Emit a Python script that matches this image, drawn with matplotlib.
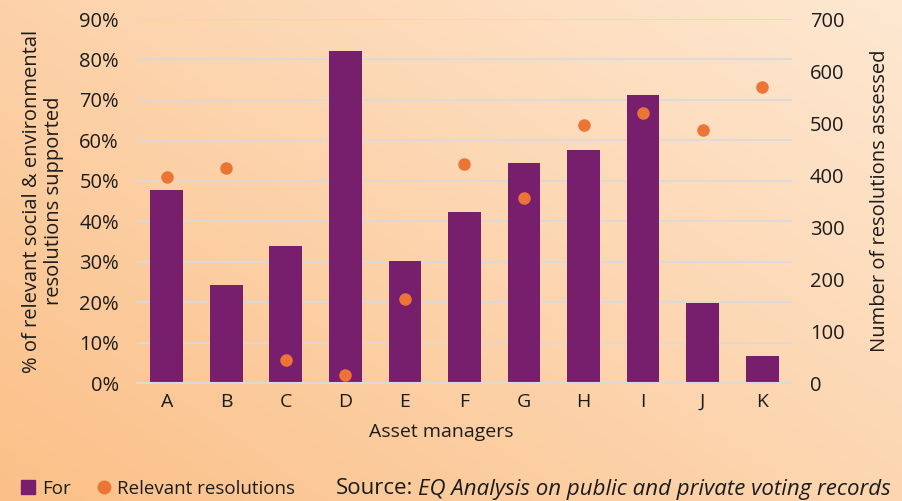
import numpy as np
import matplotlib
matplotlib.use("Agg")
import matplotlib.pyplot as plt
from matplotlib.lines import Line2D

plt.rcParams['font.family'] = ['Open Sans', 'DejaVu Sans']

managers = ["A", "B", "C", "D", "E", "F", "G", "H", "I", "J", "K"]
pct_for = [47.7, 24.2, 33.9, 82.1, 30.2, 42.3, 54.4, 57.6, 71.2, 19.8, 6.7]
relevant = [396, 413, 45, 16, 162, 421, 356, 496, 520, 487, 570]

purple = "#771f6d"
orange = "#ec7535"
txt = "#1c1c1c"
grid_c = "#d9d9de"

fig = plt.figure(figsize=(9.03, 5.01), dpi=100)

# gradient background (orange bottom-left -> pale top-right)
bg = fig.add_axes([0, 0, 1, 1], zorder=-10)
xx, yy = np.meshgrid(np.linspace(0, 1, 300), np.linspace(1, 0, 200))
t = np.clip(0.55 * xx + 0.45 * yy, 0, 1)[..., None]
c0 = np.array([251, 192, 136]) / 255
c1 = np.array([254, 232, 210]) / 255
bg.imshow(c0 + t * (c1 - c0), aspect='auto', extent=[0, 1, 0, 1])
bg.axis('off')

ax = fig.add_axes([0.1517, 0.2355, 0.7253, 0.7265])
ax.patch.set_alpha(0)
x = np.arange(len(managers))
ax.bar(x, pct_for, width=0.55, color=purple, zorder=2)
ax.set_xlim(-0.5, len(managers) - 0.5)
ax.set_ylim(0, 90)
ax.set_yticks(range(0, 91, 10))
ax.set_yticklabels([f"{v}%" for v in range(0, 91, 10)])
ax.set_xticks(x)
ax.set_xticklabels(managers)
ax.grid(axis='y', color=grid_c, linewidth=1.2)
ax.set_axisbelow(True)
for s in ['top', 'left', 'right']:
    ax.spines[s].set_visible(False)
ax.spines['bottom'].set_color(grid_c)
ax.spines['bottom'].set_linewidth(1.5)
ax.tick_params(axis='y', length=0, pad=13, labelsize=14.5, labelcolor=txt)
ax.tick_params(axis='x', length=0, pad=7, labelsize=14, labelcolor=txt)
ax.set_ylabel("% of relevant social & environmental\nresolutions supported",
              fontsize=14.5, color=txt, linespacing=1.1, labelpad=11)

ax2 = ax.twinx()
ax2.patch.set_alpha(0)
ax2.plot(x, relevant, 'o', color=orange, markersize=8, zorder=3)
ax2.set_ylim(0, 700)
ax2.set_yticks(range(0, 701, 100))
for s in ['top', 'left', 'right', 'bottom']:
    ax2.spines[s].set_visible(False)
ax2.tick_params(axis='y', length=0, pad=13, labelsize=14.5, labelcolor=txt)
ax2.set_ylabel("Number of resolutions assessed", fontsize=14.5, color=txt, labelpad=18)

fig.text(441 / 903, 1 - 432 / 501, "Asset managers", ha='center', va='center',
         fontsize=14, color=txt)

handles = [Line2D([], [], marker='s', linestyle='none', color=purple, markersize=10),
           Line2D([], [], marker='o', linestyle='none', color=orange, markersize=9)]
fig.legend(handles, ["For", "Relevant resolutions"], loc='center left',
           bbox_to_anchor=(21 / 903, 1 - 489 / 501), ncol=2, frameon=False,
           fontsize=13.5, handlelength=0.8, handletextpad=0.3, columnspacing=1.4,
           borderpad=0, borderaxespad=0, labelcolor=txt)

fig.text(336 / 903, 1 - 489 / 501, "Source:", ha='left', va='center', fontsize=16, color=txt)
fig.text(418 / 903, 1 - 489 / 501, "EQ Analysis on public and private voting records",
         ha='left', va='center', fontsize=16, color=txt, style='italic')

fig.savefig("out.png", dpi=100)
